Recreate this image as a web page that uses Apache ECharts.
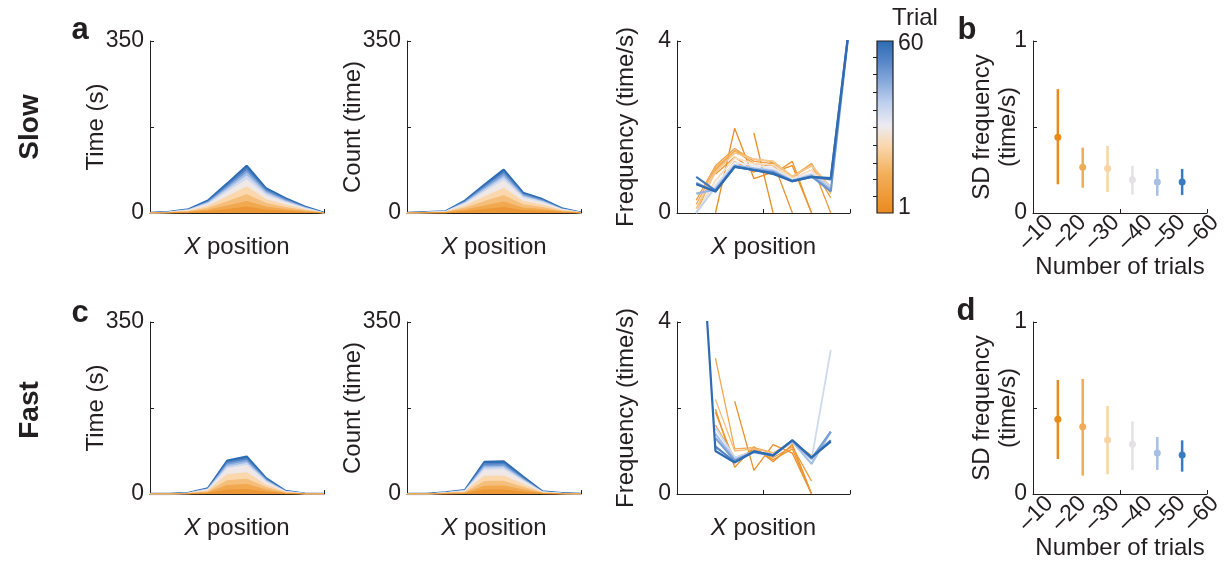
<!DOCTYPE html>
<html>
<head>
<meta charset="utf-8">
<script src="https://cdn.jsdelivr.net/npm/echarts@6/dist/echarts.min.js"></script>
<style>html,body{margin:0;background:#fff}#chart{width:1232px;height:564px}</style>
</head>
<body>
<div id="chart"></div>
<script>
// x positions (bins) along the track
const xPos = [0, 1, 2, 3, 4, 5, 6, 7, 8, 9];
const xPosFreq = [1, 2, 3, 4, 5, 6, 7, 8, 9];

// cumulative curves, one row per trial level
const trialLevels = [6, 12, 18, 24, 30, 36, 42, 48, 54, 60];
const timeSlow = [
  [0, 0.2, 0.9, 3, 7, 12, 6, 3.5, 1.5, 0],
  [0, 0.5, 1.8, 6, 14, 23, 12, 7, 3, 0],
  [0, 0.8, 2.8, 9.5, 23, 37, 19, 11, 5, 0],
  [0, 1.1, 4.1, 13.5, 33, 53, 27, 16, 7, 0],
  [0, 1.4, 5.2, 17.5, 42, 67, 35, 21, 9, 0],
  [0, 1.6, 5.8, 19.5, 47, 75, 39, 23, 10, 0],
  [0, 1.7, 6.3, 21, 50.5, 81, 42, 25, 11, 0],
  [0, 1.8, 6.7, 22.3, 53.5, 86, 44.5, 27, 11.7, 0],
  [0, 1.9, 7.1, 23.7, 57, 91, 47.5, 28.5, 12.4, 0],
  [0, 2, 7.5, 25, 60, 96, 50, 30, 13, 0]
];
const countSlow = [
  [0, 0.2, 0.4, 3, 7, 11, 5, 3.4, 1.1, 0.1],
  [0, 0.35, 0.85, 6.3, 14, 22, 10, 7, 2.4, 0.2],
  [0, 0.55, 1.4, 10, 23, 35, 16.5, 11, 3.8, 0.3],
  [0, 0.8, 1.9, 14, 32.5, 50, 23.5, 16, 5.4, 0.4],
  [0, 1, 2.5, 18.5, 42, 65, 30, 20.5, 7, 0.5],
  [0, 1.1, 2.8, 20, 46, 71, 33, 22.7, 7.7, 0.55],
  [0, 1.2, 2.9, 21.5, 49, 75.5, 35, 24, 8.2, 0.6],
  [0, 1.3, 3.1, 22.7, 52, 80, 37.3, 25.5, 8.6, 0.65],
  [0, 1.35, 3.25, 23.9, 54.5, 84, 39, 26.7, 9.1, 0.67],
  [0, 1.4, 3.4, 25, 57, 88, 41, 28, 9.5, 0.7]
];
const timeFast = [
  [0, 0, 0.25, 1.4, 8, 9, 4, 0.7, 0.1, 0],
  [0, 0, 0.5, 2.9, 17, 19, 8, 1.5, 0.2, 0],
  [0, 0, 0.8, 4.6, 27, 30, 13, 2.4, 0.3, 0],
  [0, 0, 1.15, 6.6, 39, 43, 18, 3.4, 0.4, 0],
  [0, 0, 1.5, 8.6, 51, 58, 24, 4.5, 0.5, 0],
  [0, 0, 1.6, 9.3, 55, 62, 26, 4.9, 0.57, 0],
  [0, 0, 1.7, 9.9, 58.5, 65.5, 27.5, 5.2, 0.6, 0],
  [0, 0, 1.8, 10.5, 62, 69, 29, 5.5, 0.64, 0],
  [0, 0, 1.9, 11, 65, 72.5, 30.5, 5.7, 0.67, 0],
  [0, 0, 2, 11.5, 68, 76, 32, 6, 0.7, 0]
];
const countFast = [
  [0, 0, 0.35, 1, 8, 8, 4, 0.6, 0.2, 0],
  [0, 0, 0.7, 1.9, 15.5, 16, 8.5, 1.2, 0.3, 0],
  [0, 0, 1.15, 3.1, 25, 25.5, 13.5, 1.9, 0.5, 0],
  [0, 0, 1.65, 4.4, 36, 36.5, 19, 2.8, 0.8, 0],
  [0, 0, 2.2, 5.8, 48, 49, 26, 3.7, 1, 0],
  [0, 0, 2.4, 6.4, 52, 53, 28, 4, 1.1, 0],
  [0, 0, 2.55, 6.8, 55, 56, 29.7, 4.25, 1.2, 0],
  [0, 0, 2.7, 7.2, 58.5, 59.5, 31.5, 4.5, 1.25, 0],
  [0, 0, 2.85, 7.6, 62, 62.5, 33.3, 4.75, 1.33, 0],
  [0, 0, 3, 8, 65, 66, 35, 5, 1.4, 0]
];

// frequency per trial (null = no visit)
const freqSlowTrials = [2, 3, 4, 5, 7, 9, 14, 20, 26, 32, 38, 44, 50, 56, 60];
const freqSlow = [
  [null, 0, 1.97, 0.8, 0.95, 1.1, 0, null, null],
  [null, null, null, 1.86, 0, null, null, null, null],
  [null, 0.6, 1.2, 0.95, 1.2, 0, null, null, null],
  [null, 0.9, 1.3, 1.0, 0.9, 1.2, 0, null, null],
  [0, 1.0, 1.45, 1.15, 1.1, 0.8, 1.15, 0, null],
  [0.3, 1.1, 1.5, 1.2, 1.15, 0.85, 1.1, 0.35, null],
  [0.2, 1.05, 1.45, 1.25, 1.2, 0.85, 1.15, 0.45, null],
  [0.1, 0.95, 1.4, 1.25, 1.2, 0.85, 1.1, 0.6, null],
  [0, 0.75, 1.28, 1.15, 1.12, 0.8, 1.0, 0.55, null],
  [0, 0.65, 1.18, 1.1, 1.05, 0.78, 0.93, 0.6, null],
  [0, 0.6, 1.12, 1.05, 1.0, 0.76, 0.9, 0.62, null],
  [0.45, 0.55, 1.1, 1.03, 0.97, 0.75, 0.87, 0.55, null],
  [0.7, 0.5, 1.08, 1.0, 0.95, 0.74, 0.85, 0.5, 4.5],
  [0.84, 0.52, 1.07, 1.0, 0.93, 0.74, 0.84, 0.78, 4.5],
  [0.67, 0.5, 1.08, 1.0, 0.91, 0.74, 0.84, 0.81, 4.5]
];
const freqFastTrials = [2, 3, 5, 8, 12, 18, 36, 42, 48, 54, 60];
const freqFast = [
  [null, 1.97, 0.62, 1.1, 0.75, 1.15, 0, null, null],
  [null, null, 2.16, 0.55, 1.15, 0.95, 0, null, null],
  [null, 1.9, 0.75, 1.05, 0.8, 1.05, 0, null, null],
  [null, 1.6, 0.85, 1.0, 0.85, 1.1, 0.3, null, null],
  [null, 3.16, 1.05, 1.08, 0.96, 1.2, 0.9, null, null],
  [null, 2.2, 1.0, 1.05, 0.95, 1.2, 0.85, null, null],
  [null, 1.54, 0.85, 0.98, 0.92, 1.22, 0.8, 3.35, null],
  [null, 1.4, 0.8, 0.97, 0.9, 1.22, 0.7, 1.45, null],
  [null, 1.3, 0.78, 0.98, 0.9, 1.24, 0.82, 1.45, null],
  [null, 1.1, 0.75, 0.99, 0.9, 1.25, 0.85, 1.25, null],
  [8, 1.0, 0.73, 0.99, 0.9, 1.25, 0.85, 1.22, null]
];

// SD of frequency vs number of trials
const groupX = [1, 2, 3, 4, 5, 6];
const groupTicks = [10, 20, 30, 40, 50, 60];
const sdSlowMean = [0.44, 0.266, 0.258, 0.194, 0.18, 0.18];
const sdSlowLow = [0.167, 0.147, 0.122, 0.107, 0.10, 0.105];
const sdSlowHigh = [0.72, 0.38, 0.39, 0.275, 0.256, 0.256];
const sdFastMean = [0.434, 0.391, 0.314, 0.289, 0.238, 0.227];
const sdFastLow = [0.203, 0.107, 0.114, 0.14, 0.14, 0.13];
const sdFastHigh = [0.663, 0.669, 0.512, 0.422, 0.331, 0.312];
const groupColors = ['#E98A1F', '#F0AC55', '#F9D3A2', '#E4E0E6', '#A5BFE6', '#3A7BC0'];

const font = 'Liberation Sans';
const ink = '#231f20';

// orange -> white -> blue colormap
const cmapStops = [[1, '#E98A1F'], [14, '#F2AD58'], [24, '#FAD7AC'], [31, '#EDEBF1'], [39, '#BCCFEE'], [46, '#86A9DC'], [53, '#5586C7'], [60, '#2D6BB2']];
function hex2rgb(h) { return [1, 3, 5].map(i => parseInt(h.substr(i, 2), 16)); }
function trialColor(t) {
  for (let i = 0; i < cmapStops.length - 1; i++) {
    const [t0, c0] = cmapStops[i], [t1, c1] = cmapStops[i + 1];
    if (t <= t1) {
      const f = Math.max(0, (t - t0) / (t1 - t0));
      const a = hex2rgb(c0), b = hex2rgb(c1);
      return 'rgb(' + a.map((v, k) => Math.round(v + (b[k] - v) * f)).join(',') + ')';
    }
  }
  return cmapStops[cmapStops.length - 1][1];
}

const myChart = echarts.init(document.getElementById('chart'));

const gridBox = (left, top, width) => ({ left, top, width, height: 172, containLabel: false, outerBoundsMode: 'none' });
const grids = [
  gridBox(150, 41, 174), gridBox(407, 41, 174), gridBox(677, 41, 173),
  Object.assign(gridBox(877, 41, 16), {
    show: true, borderColor: ink, borderWidth: 1.2,
    backgroundColor: new echarts.graphic.LinearGradient(0, 0, 0, 1,
      [60, 53, 46, 39, 31, 24, 14, 1].map((t, i, arr) => ({ offset: (60 - t) / 59, color: trialColor(t) })))
  }),
  gridBox(1033, 41, 174), gridBox(1033, 41, 182),
  gridBox(150, 322, 174), gridBox(407, 322, 174), gridBox(677, 322, 173),
  gridBox(1033, 322, 174), gridBox(1033, 322, 182)
];

const labelStyle = { fontFamily: font, fontSize: 23, color: ink };
const nameStyle = { fontFamily: font, fontSize: 24, color: ink };
const lineStyle = { color: ink, width: 1 };

function yAx(gi, max, interval, name, gap) {
  return {
    gridIndex: gi, type: 'value', min: 0, max, interval,
    axisLine: { show: true, lineStyle }, splitLine: { show: false },
    axisTick: { show: true, inside: true, length: 4, lineStyle },
    axisLabel: Object.assign({ margin: 6, formatter: v => (v === 0 || v === max) ? String(v) : '' }, labelStyle),
    name, nameLocation: 'middle', nameGap: gap, nameMoveOverlap: false, nameTextStyle: nameStyle
  };
}
function xAxPos(gi) {
  return {
    gridIndex: gi, type: 'value', min: 0, max: 9, interval: 4.5,
    axisLine: { show: true, onZero: false, lineStyle }, splitLine: { show: false },
    axisTick: { show: true, inside: true, length: 4, lineStyle }, axisLabel: { show: false },
    name: '{i|X} position', nameLocation: 'middle', nameGap: 22, nameMoveOverlap: false,
    nameTextStyle: Object.assign({ rich: { i: Object.assign({ fontStyle: 'italic' }, nameStyle) } }, nameStyle)
  };
}
function xAxGroup(gi) {
  return {
    gridIndex: gi, type: 'value', min: 0, max: 7, interval: 3.5,
    axisLine: { show: true, onZero: false, lineStyle }, splitLine: { show: false },
    axisTick: { show: true, inside: true, length: 4, lineStyle }, axisLabel: { show: false },
    name: 'Number of trials', nameLocation: 'middle', nameGap: 42, nameMoveOverlap: false, nameTextStyle: nameStyle
  };
}
function xAxGroupLabels(gi) {
  return {
    gridIndex: gi, type: 'value', min: 5, max: 60, interval: 5,
    axisLine: { show: false }, axisTick: { show: false }, splitLine: { show: false },
    axisLabel: Object.assign({ rotate: 45, margin: 6, formatter: v => groupTicks.indexOf(v) >= 0 ? '\u2013' + v : '' }, labelStyle)
  };
}
const hiddenY = gi => ({ gridIndex: gi, type: 'value', min: 0, max: 1, show: false });

const xAxes = [
  xAxPos(0), xAxPos(1), xAxPos(2),
  { gridIndex: 3, type: 'value', min: 0, max: 1, show: false },
  xAxGroup(4), xAxGroupLabels(5),
  xAxPos(6), xAxPos(7), xAxPos(8),
  xAxGroup(9), xAxGroupLabels(10)
];
const yAxes = [
  yAx(0, 350, 175, 'Time (s)', 42), yAx(1, 350, 175, 'Count (time)', 42), yAx(2, 4, 2, 'Frequency (time/s)', 39),
  {
    gridIndex: 3, type: 'value', position: 'right', min: -1, max: 61,
    axisLine: { show: false }, splitLine: { show: false },
    axisTick: { show: true, inside: true, length: 4, lineStyle, customValues: [5, 11, 17, 23.5, 30, 36, 42.5, 49, 55] },
    axisLabel: Object.assign({ margin: 5, customValues: [1, 60] }, labelStyle)
  },
  yAx(4, 1, 0.5, 'SD frequency\n(time/s)', 12), hiddenY(5),
  yAx(6, 350, 175, 'Time (s)', 42), yAx(7, 350, 175, 'Count (time)', 42), yAx(8, 4, 2, 'Frequency (time/s)', 39),
  yAx(9, 1, 0.5, 'SD frequency\n(time/s)', 12), hiddenY(10)
];
yAxes[4].nameTextStyle = Object.assign({ lineHeight: 26 }, nameStyle);
yAxes[9].nameTextStyle = Object.assign({ lineHeight: 26 }, nameStyle);

const series = [];
function addCumulative(gi, rows) {
  for (let r = rows.length - 1; r >= 0; r--) {
    const c = trialColor(trialLevels[r]);
    series.push({
      type: 'line', xAxisIndex: gi, yAxisIndex: gi, symbol: 'none', silent: true,
      data: xPos.map((x, i) => [x, rows[r][i]]),
      lineStyle: { color: c, width: r === rows.length - 1 ? 2.4 : 1.2 },
      areaStyle: { color: c, opacity: 1 }
    });
  }
}
function addFreq(gi, trials, rows) {
  rows.forEach((row, r) => {
    const t = trials[r];
    series.push({
      type: 'line', xAxisIndex: gi, yAxisIndex: gi, symbol: 'none', silent: true,
      data: xPosFreq.map((x, i) => [x, row[i] == null ? '-' : row[i]]),
      lineStyle: { color: trialColor(t), width: t >= 40 ? 2.2 : (t >= 20 ? 1.8 : 1.3) }
    });
  });
}
function addErrors(gi, mean, low, high) {
  series.push({
    type: 'custom', xAxisIndex: gi, yAxisIndex: gi, silent: true,
    data: groupX.map((x, i) => [x, low[i], high[i], mean[i]]),
    renderItem: (params, api) => {
      const x = api.value(0);
      const p1 = api.coord([x, api.value(1)]), p2 = api.coord([x, api.value(2)]), pc = api.coord([x, api.value(3)]);
      const c = groupColors[params.dataIndex];
      return {
        type: 'group', children: [
          { type: 'line', shape: { x1: p1[0], y1: p1[1], x2: p2[0], y2: p2[1] }, style: { stroke: c, lineWidth: 2.5 } },
          { type: 'circle', shape: { cx: pc[0], cy: pc[1], r: 3.5 }, style: { fill: c } }
        ]
      };
    }
  });
}
addCumulative(0, timeSlow);
addCumulative(1, countSlow);
addFreq(2, freqSlowTrials, freqSlow);
addErrors(4, sdSlowMean, sdSlowLow, sdSlowHigh);
addCumulative(6, timeFast);
addCumulative(7, countFast);
addFreq(8, freqFastTrials, freqFast);
addErrors(9, sdFastMean, sdFastLow, sdFastHigh);

const txt = (text, x, y, size, rot) => ({
  type: 'text', x, y, rotation: rot || 0, silent: true,
  style: { text, font: 'bold ' + size + 'px "' + font + '"', fill: ink, textAlign: 'center', textVerticalAlign: 'middle' }
});

const option = {
  animation: false,
  backgroundColor: '#fff',
  grid: grids,
  xAxis: xAxes,
  yAxis: yAxes,
  series,
  graphic: [
    txt('Slow', 30, 127, 28, Math.PI / 2),
    txt('Fast', 30, 410, 28, Math.PI / 2),
    txt('a', 80, 30, 31), txt('b', 967, 30, 31),
    txt('c', 80, 313, 31), txt('d', 966, 311, 31),
    { type: 'text', x: 915, y: 18, silent: true, style: { text: 'Trial', font: '24px "' + font + '"', fill: ink, textAlign: 'center', textVerticalAlign: 'middle' } }
  ]
};

myChart.setOption(option, true);
</script>
</body>
</html>
